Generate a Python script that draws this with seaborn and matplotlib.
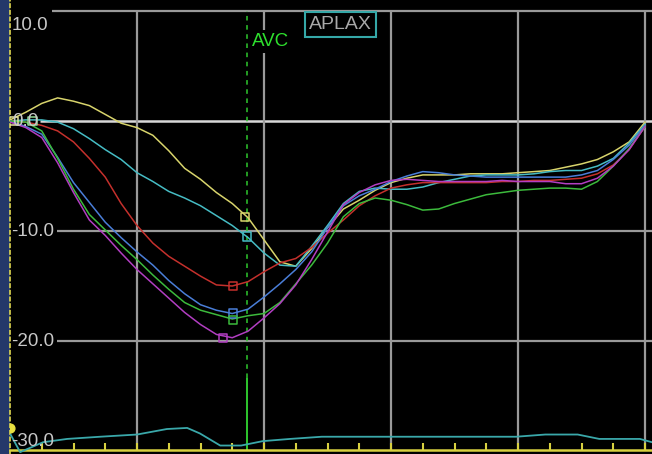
import numpy as np
import pandas as pd
import matplotlib
matplotlib.use("Agg")
import matplotlib.pyplot as plt
import seaborn as sns

# ---------------- data (strain %, time as % of cycle) ----------------
time_pct = [0, 2.5, 5, 7.5, 10, 12.5, 15, 17.5, 20, 22.5, 25, 27.5, 30, 32.5, 35,
            37.5, 40, 42.5, 45, 47.5, 50, 52.5, 55, 57.5, 60, 62.5, 65, 67.5, 70,
            72.5, 75, 77.5, 80, 82.5, 85, 87.5, 90, 92.5, 95, 97.5, 100]

yellow = [0.1, 0.8, 1.6, 2.1, 1.8, 1.4, 0.6, -0.2, -0.6, -1.3, -2.7, -4.3, -5.3, -6.5,
          -7.5, -8.8, -10.8, -12.8, -13.2, -11.6, -9.7, -8.0, -7.2, -6.3, -5.6, -5.2,
          -4.9, -4.9, -4.9, -4.8, -4.8, -4.8, -4.7, -4.6, -4.5, -4.2, -3.9, -3.5, -2.8,
          -1.9, -0.1]
cyan = [0.0, 0.1, 0.1, -0.1, -0.7, -1.6, -2.6, -3.5, -4.7, -5.5, -6.4, -7.0, -7.7, -8.6,
        -9.5, -10.6, -12.0, -13.1, -13.2, -11.4, -9.5, -7.5, -6.4, -6.1, -6.2, -6.2,
        -6.0, -5.6, -5.3, -5.0, -4.9, -4.9, -4.9, -4.8, -4.6, -4.5, -4.5, -4.1, -3.4,
        -2.0, -0.3]
red = [0.0, -0.1, -0.4, -0.9, -1.9, -3.4, -5.1, -7.5, -9.5, -11.1, -12.3, -13.2, -14.1,
       -14.9, -15.0, -14.6, -13.7, -12.9, -12.5, -11.5, -10.2, -9.0, -7.7, -6.8, -6.1,
       -5.8, -5.6, -5.6, -5.6, -5.6, -5.6, -5.5, -5.5, -5.4, -5.4, -5.3, -5.2, -4.8,
       -4.0, -2.6, -0.5]
blue = [0.0, -0.5, -1.2, -3.3, -5.6, -7.4, -9.2, -10.6, -11.9, -13.1, -14.5, -15.7, -16.7,
        -17.2, -17.5, -17.1, -16.0, -14.8, -13.5, -11.9, -9.7, -7.7, -6.8, -6.2, -5.5,
        -5.0, -4.6, -4.7, -4.9, -5.0, -5.1, -5.1, -5.1, -5.1, -5.1, -5.1, -4.9, -4.5,
        -3.5, -2.2, -0.4]
green = [0.0, -0.1, -0.9, -3.4, -6.2, -8.5, -9.9, -11.3, -12.6, -14.0, -15.3, -16.5, -17.2,
         -17.6, -18.0, -17.7, -17.5, -16.5, -14.8, -13.1, -11.1, -8.7, -7.5, -7.0, -7.2,
         -7.6, -8.1, -8.0, -7.5, -7.1, -6.7, -6.5, -6.3, -6.2, -6.1, -6.1, -6.2, -5.5,
         -4.1, -2.5, -0.5]
magenta = [-0.1, -0.6, -1.5, -3.8, -6.5, -9.0, -10.4, -12.0, -13.5, -14.8, -16.1, -17.4,
           -18.5, -19.4, -19.7, -19.1, -17.9, -16.6, -14.9, -12.6, -10.1, -7.6, -6.5,
           -5.8, -5.4, -5.3, -5.4, -5.5, -5.5, -5.5, -5.5, -5.4, -5.5, -5.5, -5.5, -5.7,
           -5.7, -5.2, -4.1, -2.6, -0.5]

segments = ["yellow", "cyan", "red", "blue", "green", "magenta"]
seg_colors = ["#d8d46c", "#46bcc4", "#c4302c", "#4a7ed8", "#3cba3c", "#b23ec2"]

# peak markers
peak_time = [37.0, 37.3, 35.1, 35.1, 35.1, 33.5]
peak_strain = [-8.7, -10.5, -15.0, -17.5, -18.1, -19.7]
# start markers
start_time = [0.6, 3.5]
start_strain = [0.0, 0.0]
start_colors = ["#e0e0a0", "#90d890"]

# ECG trace at the bottom
ecg_time = [0, 1.6, 5.2, 9.0, 14.2, 20.0, 24.7, 27.9, 29.9, 33.1, 36.4, 39.8, 44.1,
            49.1, 79.7, 84.3, 89.4, 92.8, 99.2, 101.1]
ecg_val = [-28.4, -30.1, -29.2, -28.9, -28.7, -28.5, -28.0, -27.9, -28.4, -29.5, -29.5,
           -29.1, -28.9, -28.7, -28.7, -28.5, -28.5, -28.9, -28.9, -29.2]

avc_time = 37.3
y_label_vals = [10, 0, -10, -20, -30]
y_labels = ["10.0", "0.0", "-10.0", "-20.0", "-30.0"]
x_tick_vals = [5, 10, 15, 20, 25, 30, 35, 40, 45, 50, 55, 60, 65, 70, 75, 80, 85, 90, 95, 100]
v_grid = [20, 40, 60, 80, 100]

# ---------------- figure ----------------
plt.rcParams["font.family"] = ["Liberation Sans", "DejaVu Sans"]

W, H = 652, 454
fig = plt.figure(figsize=(W / 100, H / 100), dpi=100, facecolor="#24386a")
ax = fig.add_axes([10 / W, 0, (W - 10) / W, 1])
ax.set_facecolor("black")
XMAX = 101.1
ax.set_xlim(0, XMAX)
ax.set_ylim(-30.27, 11.0)

px = 6.35  # pixels per time unit
grid_col = "#9a9a9a"
# horizontal grid lines (start after labels)
for v, start in [(10, 52), (-10, 57), (-20, 57)]:
    ax.hlines(v, (start - 10) / px, XMAX, color=grid_col, lw=1.6, zorder=1)
ax.hlines(0, (40 - 10) / px, XMAX, color="#d8d8d8", lw=1.8, zorder=1)
ax.vlines(v_grid, -29.9, 10, color=grid_col, lw=1.6, zorder=1)

# AVC marker line
ax.vlines(avc_time, -23.4, 10, color="#2ec82e", lw=1.1, linestyles=(0, (3, 3)), zorder=2)
ax.vlines(avc_time, -29.9, -23.4, color="#2ec82e", lw=1.4, zorder=2)

# spines
for s in ["top", "right"]:
    ax.spines[s].set_visible(False)
ax.spines["left"].set_color("#e0d850")
ax.spines["left"].set_linestyle((0, (2, 2)))
ax.spines["left"].set_linewidth(1.2)
ax.spines["bottom"].set_position(("data", -29.9))
ax.spines["bottom"].set_color("#d8d040")
ax.spines["bottom"].set_linewidth(1.8)
ax.set_xticks(x_tick_vals)
ax.tick_params(axis="x", direction="in", length=5, width=1.5, color="#d8d040",
               labelbottom=False)
ax.set_yticks([])

# strain curves
df = pd.DataFrame({
    "time": time_pct * len(segments),
    "strain": yellow + cyan + red + blue + green + magenta,
    "segment": [s for s in segments for _ in time_pct],
})
sns.lineplot(data=df, x="time", y="strain", hue="segment", hue_order=segments,
             palette=dict(zip(segments, seg_colors)), estimator=None, sort=False,
             lw=1.1, legend=False, ax=ax, zorder=3)
ax.set_xlabel("")
ax.set_ylabel("")

# peak and start markers
for t, v, c in zip(peak_time, peak_strain, seg_colors):
    ax.scatter(t, v, marker="s", s=34, facecolors="none",
               edgecolors=c, linewidths=1.1, zorder=4)
for t, v, c in zip(start_time, start_strain, start_colors):
    ax.scatter(t, v, marker="s", s=40, facecolors="none", edgecolors=c,
               linewidths=1.1, zorder=4)

# ECG trace
sns.lineplot(x=ecg_time, y=ecg_val, color="#3aa8aa", lw=1.3, ax=ax, zorder=3,
             estimator=None, sort=False)
ax.scatter([0], [-27.9], s=40, color="#e8e040", zorder=5, clip_on=True)

# axis labels inside plot
label_pos = {10: 8.7, 0: 0.0, -10: -10.0, -20: -20.0, -30: -29.1}
for v, lab in zip(y_label_vals, y_labels):
    x0 = 0.3 if not lab.startswith("-") else 0.15
    ax.text(x0, label_pos[v], lab, ha="left", va="center", color="#c8c8c8",
            fontsize=13.5, zorder=6)

# annotations
ax.text(38.1, 7.2, "AVC", ha="left", va="center", color="#2ee02e", fontsize=13.5,
        zorder=6, bbox=dict(facecolor="black", edgecolor="none", pad=2))
ax.text(52.0, 8.8, "APLAX", ha="center", va="center", color="#a8a8a8", fontsize=14,
        zorder=6, bbox=dict(facecolor="black", edgecolor="#35a8a8", linewidth=1.5,
                            boxstyle="square,pad=0.2"))

fig.savefig("out.png", dpi=100, facecolor=fig.get_facecolor())
